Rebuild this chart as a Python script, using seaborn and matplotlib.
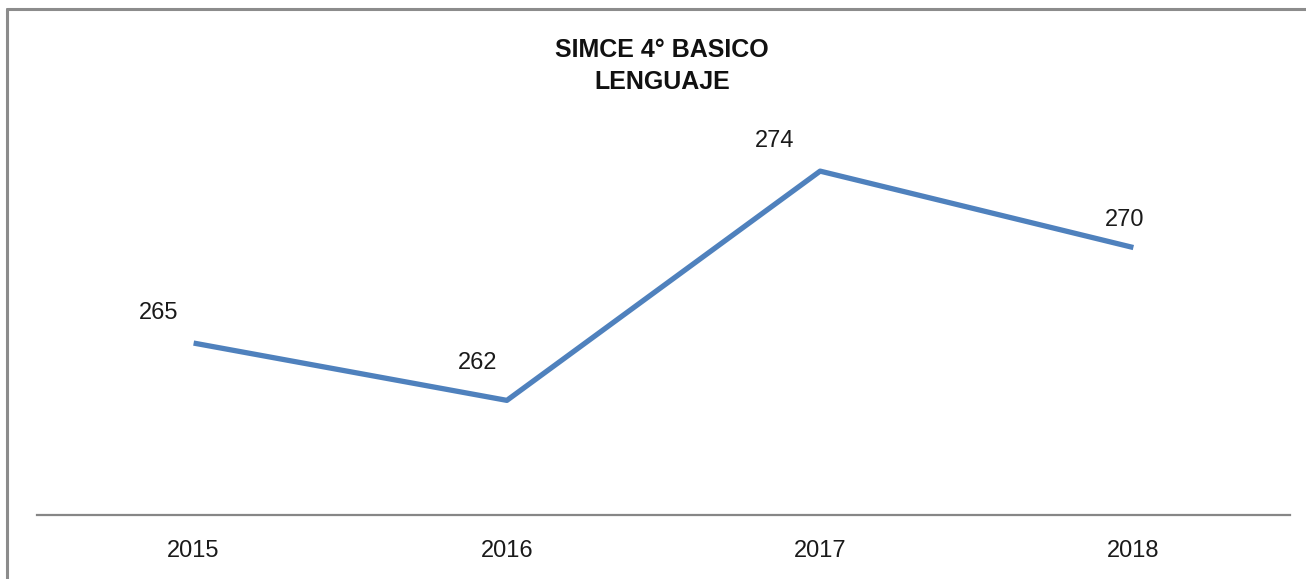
"""SIMCE 4° basico, lenguaje: line chart of yearly scores."""

import pandas as pd
import seaborn as sns
import matplotlib.pyplot as plt
from matplotlib.lines import Line2D

YEARS = ["2015", "2016", "2017", "2018"]
SCORES = [265, 262, 274, 270]

LINE_COLOR = "#4F81BD"
AXIS_COLOR = "#868686"


def plot_chart():
    df = pd.DataFrame({"Year": YEARS, "Score": SCORES})

    sns.set_theme(style="white")
    plt.rcParams["font.family"] = ["Liberation Sans", "DejaVu Sans"]

    fig = plt.figure(figsize=(13.06, 5.79), dpi=100)
    ax = fig.add_axes([37 / 1306, 64 / 579, 1253 / 1306, 458.5 / 579])

    sns.lineplot(data=df, x="Year", y="Score", ax=ax, sort=False,
                 color=LINE_COLOR, linewidth=3.8, solid_capstyle="butt")

    ax.set_xlim(-0.5, len(YEARS) - 0.5)
    ax.set_ylim(256, 280)
    ax.set_yticks([])
    ax.set_xlabel("")
    ax.set_ylabel("")
    for side in ["top", "right", "left"]:
        ax.spines[side].set_visible(False)
    ax.spines["bottom"].set_color(AXIS_COLOR)
    ax.spines["bottom"].set_linewidth(1.6)
    ax.tick_params(axis="x", length=0, pad=18, labelsize=17, colors="#1a1a1a")

    # data labels (offsets in points, nudged as in the original)
    offsets = [(-25, 22), (-21, 27), (-33, 22), (-6, 20)]
    for i, (val, off) in enumerate(zip(SCORES, offsets)):
        ax.annotate(str(val), xy=(i, val), xytext=off, textcoords="offset points",
                    ha="center", va="center", fontsize=17, color="#1a1a1a")

    fig.text(662 / 1306, 1 - 66 / 579, "SIMCE 4° BASICO\nLENGUAJE",
             ha="center", va="center", fontsize=18, fontweight="bold",
             linespacing=1.4, color="#111111")

    # chart frame (top and left edges visible in the crop)
    fig.add_artist(Line2D([7 / 1306, 1], [1 - 9 / 579, 1 - 9 / 579],
                          transform=fig.transFigure, color="#8c8c8c", lw=2.2))
    fig.add_artist(Line2D([7 / 1306, 7 / 1306], [0, 1 - 9 / 579],
                          transform=fig.transFigure, color="#8c8c8c", lw=2.2))

    fig.savefig("out.png", dpi=100, facecolor="white")
    plt.close(fig)


if __name__ == "__main__":
    plot_chart()
